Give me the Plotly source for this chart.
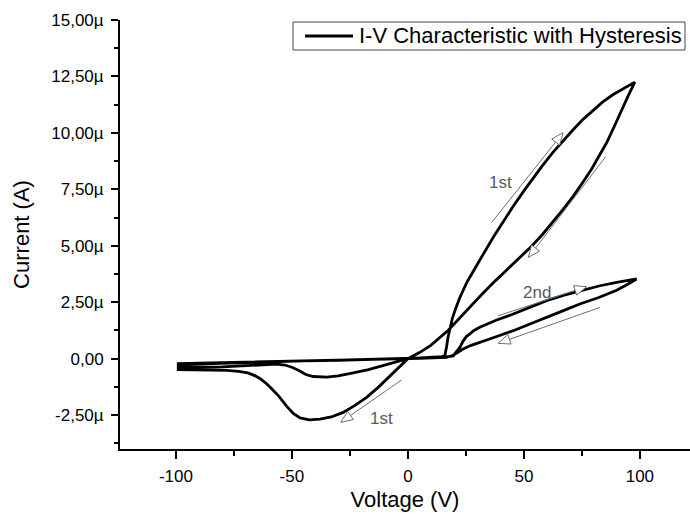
import math
import plotly.graph_objects as go

# ---------------- data (Voltage in V, Current in µA) ----------------
c1_rise_v = [0, 4, 8, 12, 14.5, 15.9, 16.3, 16.7, 17.3, 18.1, 19.2, 20.6, 22.4, 25.5, 28.9, 32.5, 36.8, 41, 45.4, 50,
             54, 58, 62.6, 67, 71.3, 75.5, 79.9, 84, 88.5, 93, 97.8]
c1_rise_i = [0, 0.02, 0.04, 0.07, 0.09, 0.12, 0.28, 0.55, 0.95, 1.38, 1.8, 2.22, 2.71, 3.4, 3.97, 4.63, 5.38, 6.07,
             6.75, 7.43, 8.0, 8.55, 9.15, 9.67, 10.15, 10.6, 11.0, 11.37, 11.7, 11.98, 12.25]

c1_fall_v = [95, 92, 88.8, 85.6, 82.4, 79.2, 75.2, 71.3, 67, 62.6, 58, 53.3, 48.5, 43.2, 37, 31, 24, 17.4, 10, 5, 0]
c1_fall_i = [11.65, 10.95, 10.25, 9.55, 8.95, 8.4, 7.78, 7.2, 6.62, 6.05, 5.5, 4.98, 4.52, 4.0, 3.38, 2.75, 1.98,
             1.26, 0.6, 0.27, 0]

c1_dip_v = [-3.5, -7.8, -12.8, -17.8, -22.8, -27.9, -33, -37.9, -42.5, -46.5, -49.4, -52.3, -55.5, -58.5, -61,
            -63.5, -66, -69, -73, -78, -85, -92, -99]
c1_dip_i = [-0.36, -0.8, -1.27, -1.71, -2.07, -2.38, -2.58, -2.68, -2.71, -2.62, -2.42, -2.1, -1.68, -1.35, -1.1,
            -0.9, -0.75, -0.63, -0.56, -0.52, -0.5, -0.49, -0.48]

c1_back_v = [-99, -90, -80, -70, -58, -45, -30, -15, 0]
c1_back_i = [-0.26, -0.23, -0.2, -0.17, -0.14, -0.1, -0.07, -0.035, 0]

c2_rise_v = [5, 10, 15, 19.5, 21, 22.4, 23.8, 25.2, 26.7, 28.5, 31, 38, 45.4, 52.5, 59.8, 67, 74, 82.8, 90, 98.6]
c2_rise_i = [0.01, 0.03, 0.06, 0.12, 0.3, 0.5, 0.78, 0.98, 1.1, 1.25, 1.39, 1.7, 1.98, 2.28, 2.57, 2.8, 3.0, 3.23,
             3.38, 3.53]

c2_fall_v = [94, 90, 82, 74.1, 67, 59.8, 52.5, 45.4, 38, 31, 27, 23.8, 21, 19.5, 16.7, 10, 5, 0]
c2_fall_i = [3.25, 3.03, 2.7, 2.42, 2.13, 1.83, 1.53, 1.24, 0.97, 0.72, 0.58, 0.43, 0.25, 0.15, 0.06, 0.02, 0.01, 0]

c2_dip_v = [-5, -10.6, -17, -23.6, -30, -35, -40.8, -44, -47, -50, -53, -56.6, -62, -68, -80, -90, -99]
c2_dip_i = [-0.15, -0.31, -0.48, -0.63, -0.76, -0.82, -0.79, -0.7, -0.52, -0.38, -0.28, -0.24, -0.27, -0.32, -0.36,
            -0.38, -0.38]

c2_back_v = [-99, -80, -60, -40, -20, 0]
c2_back_i = [-0.22, -0.17, -0.125, -0.085, -0.04, 0]

y_tick_vals = [-2.5, 0, 2.5, 5, 7.5, 10, 12.5, 15]
y_tick_text = ["-2,50µ", "0,00", "2,50µ", "5,00µ", "7,50µ", "10,00µ", "12,50µ", "15,00µ"]
x_tick_vals = [-100, -50, 0, 50, 100]
x_tick_text = ["-100", "-50", "0", "50", "100"]

series_name = "I-V Characteristic with Hysteresis"

# annotation arrows: (tail V, tail I, tip V, tip I)
arrows = [
    (36.1, 6.03, 66.9, 10.01),
    (85.3, 8.95, 51.9, 4.48),
    (38.9, 1.90, 77.0, 3.19),
    (82.8, 2.27, 38.9, 0.68),
    (-2.7, -0.94, -29.0, -2.82),
]
labels = [("1st", 39.7, 7.8), ("2nd", 55.5, 2.93), ("1st", -11.3, -2.67)]

# ---------------- layout geometry ----------------
W, H = 690, 516
ML, MR, MT, MB = 120, 0, 20, 67
XR = [-124.1, 121.6]
YR = [-4.0, 15.0]
pw, ph = W - ML - MR, H - MT - MB
sx = pw / (XR[1] - XR[0])
sy = ph / (YR[1] - YR[0])


def px2paper(px, py):
    return (px - ML) / pw, 1 - (py - MT) / ph


volt = (c1_rise_v + c1_fall_v + c1_dip_v + c1_back_v + c2_rise_v + c2_fall_v + c2_dip_v + c2_back_v)
curr = (c1_rise_i + c1_fall_i + c1_dip_i + c1_back_i + c2_rise_i + c2_fall_i + c2_dip_i + c2_back_i)

fig = go.Figure()
fig.add_trace(go.Scatter(x=volt, y=curr, mode="lines", name=series_name,
                         line=dict(color="black", width=2.8), showlegend=False))

shapes = []
grey = "#6e6e6e"
for (x0, y0, x1, y1) in arrows:
    dxp = (x1 - x0) * sx
    dyp = (y1 - y0) * sy
    L = math.hypot(dxp, dyp)
    ux, uy = dxp / L, dyp / L
    hl, hw = 12, 5
    bx, by = x1 - ux * hl / sx, y1 - uy * hl / sy
    px_, py_ = -uy, ux
    lx, ly = bx + px_ * hw / sx, by + py_ * hw / sy
    rx, ry = bx - px_ * hw / sx, by - py_ * hw / sy
    shapes.append(dict(type="line", xref="x", yref="y", x0=x0, y0=y0, x1=bx, y1=by,
                       line=dict(color=grey, width=1)))
    shapes.append(dict(type="path", xref="x", yref="y",
                       path=f"M{x1},{y1} L{lx},{ly} L{rx},{ry} Z",
                       fillcolor="white", line=dict(color=grey, width=1)))

font = "Liberation Sans, Arial, sans-serif"

# legend box drawn as in the reference (frame, line sample, text)
lx0, ly0 = px2paper(293, 22)
lx1, ly1 = px2paper(685, 50)
shapes.append(dict(type="rect", xref="paper", yref="paper", x0=lx0, y0=ly0, x1=lx1, y1=ly1,
                   line=dict(color="#444", width=1), fillcolor="white", layer="above"))
sx0, sy0 = px2paper(305, 36)
sx1, _ = px2paper(353, 36)
shapes.append(dict(type="line", xref="paper", yref="paper", x0=sx0, y0=sy0, x1=sx1, y1=sy0,
                   line=dict(color="black", width=2.8), layer="above"))
tx, ty = px2paper(357, 36)

annotations = [dict(x=x, y=y, text=t, showarrow=False, xref="x", yref="y",
                    font=dict(family=font, size=17, color="#5a5a5a"))
               for (t, x, y) in labels]
annotations.append(dict(x=tx, y=ty, xref="paper", yref="paper", text=series_name, showarrow=False,
                        xanchor="left", yanchor="middle", font=dict(family=font, size=22, color="black")))

fig.update_layout(
    width=W, height=H,
    margin=dict(l=ML, r=MR, t=MT, b=MB, pad=0),
    paper_bgcolor="white", plot_bgcolor="white",
    font=dict(family=font, color="black"),
    shapes=shapes, annotations=annotations,
    showlegend=False,
    xaxis=dict(range=XR, showgrid=False, zeroline=False, showline=True, linecolor="black", linewidth=2,
               ticks="outside", ticklen=8, tickwidth=2, tickcolor="black",
               tickmode="array", tickvals=x_tick_vals, ticktext=x_tick_text,
               tickfont=dict(size=17, family=font), ticklabelstandoff=3,
               minor=dict(tickmode="linear", tick0=-125, dtick=25, ticks="outside", ticklen=5, tickwidth=2,
                          tickcolor="black", showgrid=False),
               title=dict(text="Voltage (V)", font=dict(size=22, family=font), standoff=6),
               automargin=False),
    yaxis=dict(range=YR, showgrid=False, zeroline=False, showline=True, linecolor="black", linewidth=2,
               ticks="outside", ticklen=7, tickwidth=2, tickcolor="black",
               tickmode="array", tickvals=y_tick_vals, ticktext=y_tick_text,
               tickfont=dict(size=17, family=font), ticklabelstandoff=4,
               minor=dict(tickmode="linear", tick0=0, dtick=1.25, ticks="outside", ticklen=4, tickwidth=2,
                          tickcolor="black", showgrid=False),
               title=dict(text="Current (A)", font=dict(size=22, family=font), standoff=16),
               automargin=False),
)

fig.write_html("out.html")
